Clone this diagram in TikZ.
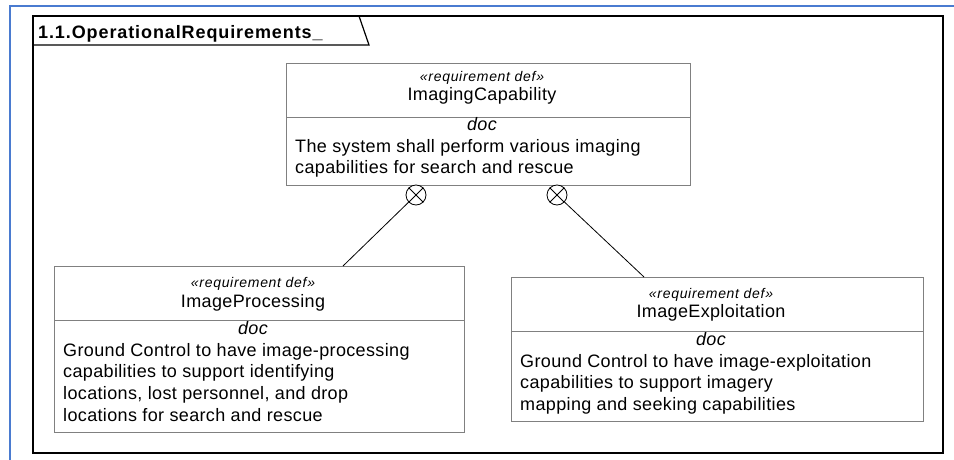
\documentclass[tikz,border=0pt]{standalone}
\usepackage{fontspec}
\setmainfont{Liberation Sans}
\usepackage{tikz}
\usetikzlibrary{positioning}
\definecolor{boxgray}{HTML}{808080}
\definecolor{edgeblue}{HTML}{4A7BD0}

\tikzset{
  reqbox/.style={draw=boxgray, line width=0.8pt, fill=white, inner sep=0pt, anchor=north west},
  stereo/.style={anchor=base, inner sep=0pt, font=\fontsize{14}{14}\selectfont\itshape\addfontfeatures{LetterSpace=5}},
  reqname/.style={anchor=base, inner sep=0pt, font=\fontsize{18}{18}\selectfont\addfontfeatures{LetterSpace=2}},
  doclabel/.style={anchor=base, inner sep=0pt, font=\fontsize{18}{18}\selectfont\itshape\addfontfeatures{LetterSpace=2}},
  docline/.style={anchor=base west, inner sep=0pt, font=\fontsize{18}{18}\selectfont\addfontfeatures{LetterSpace=2}},
  xcircle/.style={circle, draw=black, line width=0.8pt, minimum size=20pt, inner sep=0pt, fill=white}
}

\begin{document}
\begin{tikzpicture}[x=1pt, y=-1pt]
  \useasboundingbox (0,0) rectangle (954,460);

  % window edge
  \draw[edgeblue, line width=2pt] (10,460) -- (10,6.5) -- (954,6.5);

  % package frame with name tab
  \draw[black, line width=1.6pt] (33,16) rectangle (943,453);
  \draw[black, line width=1.2pt] (33,45) -- (369,45) -- (359,16);
  \node[anchor=base west, inner sep=0pt, font=\fontsize{18}{18}\selectfont\bfseries\addfontfeatures{LetterSpace=5}] (pkgname) at (38,39) {1.1.OperationalRequirements\_};

  % Top requirement - ImagingCapability
  \begin{scope}[shift={(286,63)}]
    \node[reqbox, minimum width=404, minimum height=122] (capbox) at (0,0) {};
    \draw[boxgray, line width=0.8pt] (0,54) -- (404,54);
    \node[stereo] (capst) at (196,19) {«requirement def»};
    \node[reqname] (capname) at (196,38) {ImagingCapability};
    \node[doclabel] (capdoc) at (196,67) {doc};
    \node[docline] (capl1) at (9,89) {The system shall perform various imaging};
    \node[docline] (capl2) at (9,110.5) {capabilities for search and rescue};
  \end{scope}

  % Left requirement - ImageProcessing
  \begin{scope}[shift={(54,266)}]
    \node[reqbox, minimum width=410, minimum height=166] (procbox) at (0,0) {};
    \draw[boxgray, line width=0.8pt] (0,54) -- (410,54);
    \node[stereo] (procst) at (199,21) {«requirement def»};
    \node[reqname] (procname) at (199,41) {ImageProcessing};
    \node[doclabel] (procdoc) at (199,68) {doc};
    \node[docline] (procl1) at (9,90) {Ground Control to have image-processing};
    \node[docline] (procl2) at (9,111.7) {capabilities to support identifying};
    \node[docline] (procl3) at (9,133.4) {locations, lost personnel, and drop};
    \node[docline] (procl4) at (9,155.1) {locations for search and rescue};
  \end{scope}

  % Right requirement - ImageExploitation
  \begin{scope}[shift={(511,277)}]
    \node[reqbox, minimum width=412, minimum height=144] (explbox) at (0,0) {};
    \draw[boxgray, line width=0.8pt] (0,54) -- (412,54);
    \node[stereo] (explst) at (200,21) {«requirement def»};
    \node[reqname] (explname) at (200,40) {ImageExploitation};
    \node[doclabel] (expldoc) at (200,68) {doc};
    \node[docline] (expll1) at (9,90) {Ground Control to have image-exploitation};
    \node[docline] (expll2) at (9,111.7) {capabilities to support imagery};
    \node[docline] (expll3) at (9,133.4) {mapping and seeking capabilities};
  \end{scope}

  % containment connectors
  \node[xcircle] (capx1) at (416,195) {};
  \node[xcircle] (capx2) at (557,195) {};
  \draw[line width=0.8pt] (capx1.north east) -- (capx1.south west) (capx1.north west) -- (capx1.south east);
  \draw[line width=0.8pt] (capx2.north east) -- (capx2.south west) (capx2.north west) -- (capx2.south east);
  \coordinate (procjoin) at (343,266);
  \coordinate (expljoin) at (644,277);
  \draw[line width=0.8pt] (capx1) -- (procjoin);
  \draw[line width=0.8pt] (capx2) -- (expljoin);
\end{tikzpicture}
\end{document}
